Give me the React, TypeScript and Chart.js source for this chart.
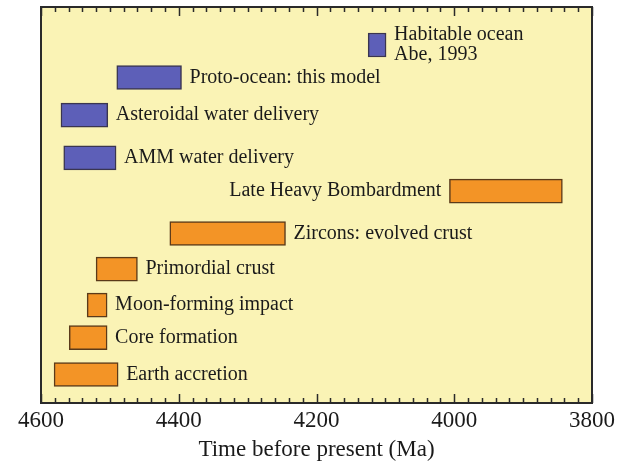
import React, { useEffect, useRef } from "react";
import { Chart, registerables } from "chart.js";

Chart.register(...registerables);

// Events (bottom to top), time ranges in Ma before present
const labels: string[][] = [
  ["Earth accretion"],
  ["Core formation"],
  ["Moon-forming impact"],
  ["Primordial crust"],
  ["Zircons: evolved crust"],
  ["Late Heavy Bombardment"],
  ["AMM water delivery"],
  ["Asteroidal water delivery"],
  ["Proto-ocean: this model"],
  ["Habitable ocean", "Abe, 1993"],
];
const starts: number[] = [4581, 4559, 4533, 4520, 4413, 4007, 4567, 4571, 4490, 4125];
const ends: number[] = [4488, 4504, 4504, 4460, 4245, 3843, 4491, 4503, 4396, 4099];
const rowPos: number[] = [7.2, 16.5, 24.7, 33.8, 42.8, 53.5, 61.9, 72.7, 82.2, 90.4];
const isWater: boolean[] = [false, false, false, false, false, false, true, true, true, true];
const labelLeft: boolean[] = [false, false, false, false, false, true, false, false, false, false];

const xTicks: number[] = [4600, 4400, 4200, 4000, 3800];

const BLUE = "#5d5fb8";
const ORANGE = "#f39426";
const BG = "#faf3b5";
const FRAME = "#2a2a2a";
const FONT = "'Liberation Serif', 'Times New Roman', serif";

export default function App() {
  const ref = useRef<HTMLCanvasElement | null>(null);

  useEffect(() => {
    document.body.style.margin = "0";
    const canvas = ref.current;
    if (!canvas) return;

    const makeData = (water: boolean) =>
      starts
        .map((s, i) => ({ x: [s, ends[i]], y: rowPos[i], i }))
        .filter((d) => isWater[d.i] === water);

    const framePlugin = {
      id: "frame",
      beforeDraw(chart: any) {
        const { ctx, chartArea } = chart;
        ctx.save();
        ctx.fillStyle = BG;
        ctx.fillRect(chartArea.left, chartArea.top, chartArea.right - chartArea.left, chartArea.bottom - chartArea.top);
        ctx.restore();
      },
      afterDatasetsDraw(chart: any) {
        const { ctx, chartArea } = chart;
        const xs = chart.scales.x;
        const ys = chart.scales.y;
        ctx.save();
        // frame
        ctx.strokeStyle = FRAME;
        ctx.lineWidth = 2;
        ctx.strokeRect(chartArea.left, chartArea.top, chartArea.right - chartArea.left, chartArea.bottom - chartArea.top);
        // ticks (inside) on top and bottom
        ctx.lineWidth = 1.5;
        for (let v = 4600; v >= 3800; v -= 20) {
          const px = Math.round(xs.getPixelForValue(v)) + 0.5;
          const major = v % 200 === 0;
          const len = major ? 9 : 5;
          ctx.beginPath();
          ctx.moveTo(px, chartArea.bottom);
          ctx.lineTo(px, chartArea.bottom - len);
          ctx.moveTo(px, chartArea.top);
          ctx.lineTo(px, chartArea.top + len);
          ctx.stroke();
        }
        // text labels
        ctx.fillStyle = "#1a1a1a";
        ctx.font = `20px ${FONT}`;
        ctx.textBaseline = "middle";
        const gap = 8;
        labels.forEach((lines, i) => {
          const y = ys.getPixelForValue(rowPos[i]);
          const lh = 20;
          const y0 = y - ((lines.length - 1) * lh) / 2;
          if (labelLeft[i]) {
            ctx.textAlign = "right";
            const x = xs.getPixelForValue(starts[i]) - gap;
            lines.forEach((t, k) => ctx.fillText(t, x, y0 + k * lh));
          } else {
            ctx.textAlign = "left";
            const x = xs.getPixelForValue(ends[i]) + gap;
            lines.forEach((t, k) => ctx.fillText(t, x, y0 + k * lh));
          }
        });
        ctx.restore();
      },
    };

    const chart = new Chart(canvas, {
      type: "bar",
      data: {
        datasets: [
          {
            label: "Water",
            data: makeData(true) as any,
            backgroundColor: BLUE,
            borderColor: "#3a3550",
            borderWidth: 1.5,
            borderSkipped: false,
            barThickness: 24,
            grouped: false,
          } as any,
          {
            label: "Geology",
            data: makeData(false) as any,
            backgroundColor: ORANGE,
            borderColor: "#5a3a1a",
            borderWidth: 1.5,
            borderSkipped: false,
            barThickness: 24,
            grouped: false,
          } as any,
        ],
      },
      options: {
        indexAxis: "y",
        animation: false,
        responsive: false,
        maintainAspectRatio: false,
        layout: { padding: { left: 41, top: 7, right: 26, bottom: 0 } },
        plugins: {
          legend: { display: false },
          tooltip: { enabled: false },
        },
        scales: {
          x: {
            type: "linear",
            reverse: true,
            min: 3800,
            max: 4600,
            afterBuildTicks: (scale: any) => {
              scale.ticks = xTicks.map((v) => ({ value: v }));
            },
            afterFit: (scale: any) => {
              scale.height = 61;
            },
            grid: { display: false, drawTicks: false },
            border: { display: false },
            ticks: {
              padding: 4,
              color: "#1a1a1a",
              font: { family: FONT, size: 23 },
              maxRotation: 0,
              autoSkip: false,
              callback: (v: any) => String(v),
            },
            title: {
              display: true,
              text: "Time before present (Ma)",
              color: "#1a1a1a",
              font: { family: FONT, size: 23 },
              padding: { top: 0, bottom: 0 },
            },
          },
          y: {
            type: "linear",
            min: 0,
            max: 100,
            offset: false,
            display: false,
          },
        },
      } as any,
      plugins: [framePlugin],
    });

    return () => chart.destroy();
  }, []);

  return (
    <div style={{ width: 619, height: 464, background: "#ffffff" }}>
      <canvas ref={ref} width={619} height={464} style={{ display: "block" }} />
    </div>
  );
}
